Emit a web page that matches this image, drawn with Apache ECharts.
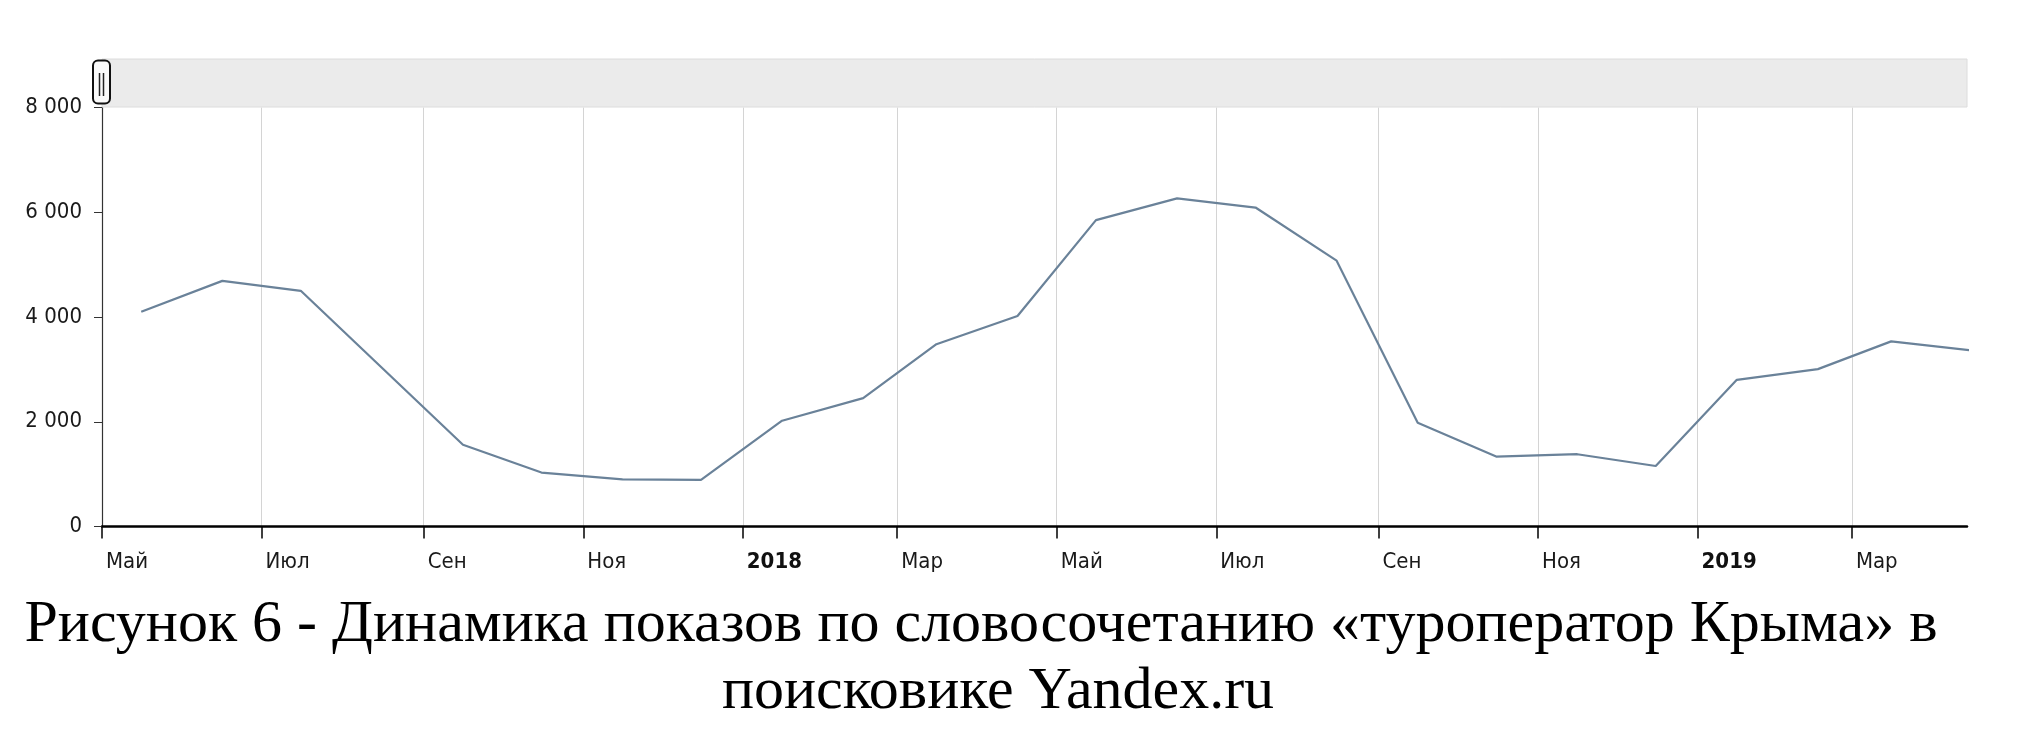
<!DOCTYPE html>
<html>
<head>
<meta charset="utf-8">
<script src="https://cdn.jsdelivr.net/npm/echarts@6/dist/echarts.min.js"></script>
<style>
html,body{margin:0;padding:0;background:#fff;}
#chart{width:2025px;height:743px;}
</style>
</head>
<body>
<div id="chart"></div>
<script>
// ---- data ----
const months = ['2017-05','2017-06','2017-07','2017-08','2017-09','2017-10','2017-11','2017-12',
                '2018-01','2018-02','2018-03','2018-04','2018-05','2018-06','2018-07','2018-08',
                '2018-09','2018-10','2018-11','2018-12','2019-01','2019-02','2019-03','2019-04'];
const impressions = [4100,4690,4500,3030,1560,1030,900,890,
                     2020,2450,3480,4020,5850,6265,6090,5075,
                     1980,1335,1380,1155,2800,3005,3535,3360];
const tickDates = ['2017-05-01','2017-07-01','2017-09-01','2017-11-01','2018-01-01','2018-03-01',
                   '2018-05-01','2018-07-01','2018-09-01','2018-11-01','2019-01-01','2019-03-01'];
const tickLabels = ['Май','Июл','Сен','Ноя','2018','Мар','Май','Июл','Сен','Ноя','2019','Мар'];
const yTickValues = [0,2000,4000,6000,8000];
const xRange = ['2017-05-01','2019-04-14'];
const captionLines = ['Рисунок 6 - Динамика показов по словосочетанию «туроператор Крыма» в',
                      'поисковике Yandex.ru'];

// ---- helpers ----
function toTs(s){ const p = s.split('-').map(Number); return Date.UTC(p[0], p[1]-1, p[2] || 1); }
const tickTs = tickDates.map(toTs);
const seriesData = months.map((m,i) => [toTs(m + '-16'), impressions[i]]);
function fmtThousands(v){ return String(v).replace(/\B(?=(\d{3})+(?!\d))/g, ' '); }

const GRID = {left: 102, right: 58, top: 107.5, bottom: 216.5};
const W = 2025;
const axisFont = "'Liberation Sans Narrow','DejaVu Sans Condensed','Liberation Sans',sans-serif";

const chart = echarts.init(document.getElementById('chart'), null, {renderer: 'canvas'});
chart.setOption({
  backgroundColor: '#ffffff',
  animation: false,
  title: captionLines.map((t, i) => ({
    text: t,
    left: i === 0 ? 981 : 998,
    top: i === 0 ? 595 : 662,
    textAlign: 'center',
    padding: 0,
    textStyle: {fontFamily: "'Liberation Serif','Times New Roman',serif", fontSize: 60, fontWeight: 'normal', color: '#000'}
  })),
  grid: {left: GRID.left, right: GRID.right, top: GRID.top, bottom: GRID.bottom, containLabel: false},
  xAxis: {
    type: 'value',
    min: toTs(xRange[0]),
    max: toTs(xRange[1]),
    axisLine: {show: true, onZero: false, lineStyle: {color: '#000', width: 2.5}},
    axisTick: {show: true, customValues: tickTs, length: 12, lineStyle: {color: '#000', width: 1.5}},
    splitLine: {show: true, lineStyle: {color: '#d4d4d4', width: 1}},
    axisLabel: {
      customValues: tickTs,
      align: 'left',
      margin: 25,
      padding: [0,0,0,4],
      showMinLabel: true,
      showMaxLabel: true,
      formatter: function(v){
        const idx = tickTs.findIndex(t => Math.abs(t - v) < 43200000);
        if (idx < 0) return '';
        const lab = tickLabels[idx];
        return /^\d{4}$/.test(lab) ? '{y|' + lab + '}' : '{m|' + lab + '}';
      },
      rich: {
        m: {fontFamily: axisFont, fontSize: 22, color: '#1a1a1a'},
        y: {fontFamily: axisFont, fontSize: 22, fontWeight: 'bold', color: '#111'}
      }
    }
  },
  yAxis: {
    type: 'value',
    min: yTickValues[0],
    max: yTickValues[yTickValues.length - 1],
    interval: yTickValues[1] - yTickValues[0],
    axisLine: {show: true, lineStyle: {color: '#333', width: 1.2}},
    axisTick: {show: true, length: 8, lineStyle: {color: '#333', width: 1}},
    splitLine: {show: false},
    axisLabel: {
      margin: 20,
      fontFamily: axisFont, fontSize: 22, color: '#1a1a1a',
      formatter: fmtThousands
    }
  },
  series: [{
    type: 'line',
    data: seriesData,
    showSymbol: false,
    symbol: 'none',
    clip: true,
    lineStyle: {color: '#6a8299', width: 2.2},
    z: 3
  }],
  graphic: [
    {type: 'rect', z: 1, shape: {x: GRID.left, y: 59, width: W - GRID.left - GRID.right, height: 48},
     style: {fill: '#ebebeb', stroke: '#dcdcdc', lineWidth: 1}},
    {type: 'rect', z: 10, shape: {x: 93, y: 60.5, width: 17, height: 43, r: 5},
     style: {fill: '#fafafa', stroke: '#111', lineWidth: 2}},
    {type: 'line', z: 11, shape: {x1: 99.5, y1: 73, x2: 99.5, y2: 96}, style: {stroke: '#222', lineWidth: 1.5}},
    {type: 'line', z: 11, shape: {x1: 103.5, y1: 73, x2: 103.5, y2: 96}, style: {stroke: '#222', lineWidth: 1.5}}
  ]
});
</script>
</body>
</html>
